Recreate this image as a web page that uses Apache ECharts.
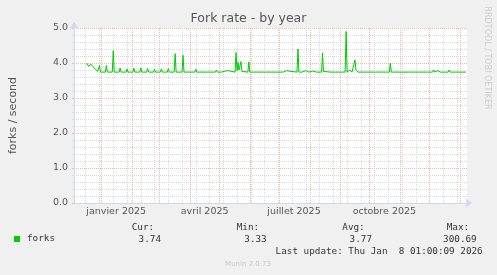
<!DOCTYPE html>
<html><head><meta charset="utf-8">
<script src="https://cdn.jsdelivr.net/npm/echarts@6/dist/echarts.min.js"></script>
<style>html,body{margin:0;padding:0;background:#f0f0f0}#c{width:497px;height:275px}</style>
</head><body><div id="c"></div>
<script>
const dates = [
'2024-12-17','2024-12-19','2024-12-21','2024-12-22','2024-12-23','2024-12-25','2024-12-28','2024-12-29','2024-12-30','2024-12-31',
'2025-01-05','2025-01-06','2025-01-07','2025-01-12','2025-01-13','2025-01-14','2025-01-19','2025-01-20','2025-01-21',
'2025-01-26','2025-01-27','2025-01-28','2025-02-02','2025-02-03','2025-02-04','2025-02-09','2025-02-10','2025-02-11',
'2025-02-16','2025-02-17','2025-02-18','2025-02-23','2025-02-24','2025-02-25','2025-03-02','2025-03-03','2025-03-04',
'2025-03-09','2025-03-10','2025-03-11','2025-03-16','2025-03-17','2025-03-18','2025-03-24','2025-03-25','2025-03-26',
'2025-04-06','2025-04-07','2025-04-08','2025-04-20','2025-04-21','2025-04-22','2025-04-27','2025-04-28','2025-04-29',
'2025-05-03','2025-05-04','2025-05-05','2025-05-07','2025-05-08','2025-05-10','2025-05-11','2025-05-12',
'2025-05-17','2025-05-18','2025-05-19','2025-05-20','2025-05-21','2025-05-22','2025-05-23','2025-05-24','2025-05-25',
'2025-05-30','2025-05-31','2025-06-01',
'2025-07-05','2025-07-06','2025-07-07','2025-07-08','2025-07-09','2025-07-19','2025-07-20','2025-07-21',
'2025-07-24','2025-07-25','2025-07-26','2025-07-28','2025-07-29','2025-07-31','2025-08-01','2025-08-02',
'2025-08-04','2025-08-05','2025-08-08','2025-08-09','2025-08-10','2025-08-13','2025-08-14','2025-08-15','2025-08-16','2025-08-17',
'2025-08-22','2025-08-23','2025-08-24','2025-08-27','2025-08-28','2025-08-29','2025-09-06','2025-09-07','2025-09-08',
'2025-09-11','2025-09-12','2025-09-13','2025-09-15','2025-09-16','2025-09-17','2025-09-18','2025-09-19',
'2025-10-07','2025-10-08','2025-10-09','2025-10-21','2025-10-22','2025-10-23','2025-10-27','2025-10-28','2025-10-29',
'2025-11-01','2025-11-02','2025-11-03','2025-11-13','2025-11-14','2025-11-15','2025-11-21','2025-11-22','2025-11-23',
'2025-11-29','2025-11-30','2025-12-01','2025-12-04','2025-12-05','2025-12-06','2025-12-08','2025-12-09','2025-12-10',
'2025-12-12','2025-12-13','2025-12-14','2025-12-20','2025-12-21','2025-12-22','2026-01-07'
];
const forks = [
4.00,3.90,3.97,3.98,3.93,3.85,3.76,3.74,3.93,3.74,
3.74,3.93,3.74,3.74,4.35,3.74,3.74,3.86,3.74,
3.74,3.83,3.74,3.74,3.85,3.74,3.74,3.86,3.74,
3.74,3.84,3.74,3.74,3.82,3.74,3.74,3.83,3.74,
3.74,3.84,3.74,3.74,4.27,3.74,3.74,4.22,3.74,
3.74,3.82,3.74,3.74,3.79,3.74,3.74,3.80,3.74,
3.74,3.77,3.75,3.77,3.75,3.78,3.81,3.74,
3.74,4.30,3.78,4.02,3.80,3.82,4.04,3.76,3.74,
3.74,4.03,3.74,
3.74,3.79,3.74,3.78,3.74,3.74,4.40,3.74,
3.74,3.77,3.74,3.78,3.74,3.74,3.77,3.74,
3.77,3.74,3.74,3.78,3.74,3.74,4.29,3.76,3.80,3.74,
3.74,3.77,3.74,3.74,3.77,3.74,3.74,4.90,3.74,
3.80,3.78,3.74,3.76,4.09,3.80,3.78,3.74,
3.74,3.69,3.74,3.74,4.00,3.74,3.74,3.70,3.74,
3.74,3.71,3.74,3.74,3.78,3.74,3.74,3.78,3.74,
3.74,3.70,3.74,3.74,3.80,3.74,3.74,3.78,3.74,
3.74,3.77,3.74,3.74,3.80,3.74,3.74
];
const tickLabelDates = ['2025-01-16','2025-04-16','2025-07-16','2025-10-16'];
const tickLabels = ['janvier 2025','avril 2025','juillet 2025','octobre 2025'];
const statNames = ['Cur:','Min:','Avg:','Max:'];
const statValues = ['3.74','3.33','3.77','300.69'];
const seriesName = 'forks';

const DAY = 86400000;
const t = s => Date.parse(s + 'T00:00:00Z');
const end = Date.UTC(2026,0,8,1,0,0);
const start = end - 400*DAY;

// grid line positions: monthly (major) and biweekly Mondays (minor)
const monthLines = [];
for (let y = 2024, m = 11; ; ) {
  const v = Date.UTC(y, m, 1);
  if (v > end) break;
  if (v >= start) monthLines.push(v);
  m++; if (m > 11) { m = 0; y++; }
}
const weekLines = [];
for (let v = t('2024-12-16'); v <= end; v += 14*DAY) weekLines.push(v);

const tickVals = tickLabelDates.map(t);
const FONT = 'DejaVu Sans';
const MONO = 'DejaVu Sans Mono';
const RED = '#f4b4b4';
const GRAY = '#dadada';

const chart = echarts.init(document.getElementById('c'), null, {renderer:'canvas'});
const statX = [131.7, 236.7, 342.3, 446.7];
const valR = [161, 266.7, 372, 476.7];
const graphics = [];
statNames.forEach((s,i)=>{
  graphics.push({type:'text', x:statX[i], y:227.3, style:{text:s, font:'9.3px "'+MONO+'"', fill:'#333', textVerticalAlign:'middle', textAlign:'left'}});
  graphics.push({type:'text', x:valR[i], y:240, style:{text:statValues[i], font:'9.3px "'+MONO+'"', fill:'#333', textVerticalAlign:'middle', textAlign:'right'}});
});
graphics.push({type:'text', x:482.7, y:251.7, style:{text:'Last update: Thu Jan  8 01:00:09 2026', font:'9.3px "'+MONO+'"', fill:'#333', textVerticalAlign:'middle', textAlign:'right'}});
graphics.push({type:'text', x:248, y:264, style:{text:'Munin 2.0.73', font:'7px "'+FONT+'"', fill:'#c8c8c8', textVerticalAlign:'middle', textAlign:'center'}});
graphics.push({type:'text', x:487, y:58, rotation:-Math.PI/2, style:{text:'RRDTOOL / TOBI OETIKER', font:'8px "'+FONT+'"', fill:'#cccccc', textVerticalAlign:'middle', textAlign:'center'}});

chart.setOption({
  animation:false,
  backgroundColor:'#f0f0f0',
  title:{text:'Fork rate - by year', left:'center', top:12, padding:0,
    textStyle:{fontFamily:FONT, fontSize:12.5, fontWeight:'normal', color:'#555'}},
  legend:{data:[seriesName], left:14, top:234.5, padding:0, icon:'rect', itemWidth:6, itemHeight:6,
    textStyle:{fontFamily:MONO, fontSize:9.3, color:'#333', padding:[0,0,0,2]}},
  grid:{left:66, right:30, top:28, bottom:72, show:true, backgroundColor:'#ffffff', borderWidth:0},
  xAxis:{type:'value', min:start, max:end,
    axisLine:{show:true, lineStyle:{color:'#cfd6f8', width:1}, symbol:['none','arrow'], symbolSize:[7,7], symbolOffset:[0,5]},
    axisTick:{show:false},
    splitLine:{show:false},
    axisLabel:{customValues:tickVals, margin:4, fontFamily:FONT, fontSize:9.5, color:'#555',
      formatter:v=>{const i=tickVals.indexOf(v); return i>=0?tickLabels[i]:'';}}},
  yAxis:{type:'value', min:0, max:5, interval:1,
    name:'forks / second', nameLocation:'middle', nameRotate:90, nameGap:55,
    nameTextStyle:{fontFamily:FONT, fontSize:11, color:'#555'},
    axisLine:{show:true, lineStyle:{color:'#cfd6f8', width:1}, symbol:['none','arrow'], symbolSize:[7,7], symbolOffset:[0,6]},
    axisTick:{show:true, length:2, lineStyle:{color:RED}},
    minorTick:{show:true, splitNumber:5, length:2, lineStyle:{color:GRAY}},
    axisLabel:{margin:6, fontFamily:FONT, fontSize:9.5, color:'#555', formatter:v=>v.toFixed(1)},
    splitLine:{show:true, lineStyle:{color:RED, type:[1,1], width:1}},
    minorSplitLine:{show:true, lineStyle:{color:GRAY, type:[1,1], width:1}}},
  graphic:graphics,
  series:[
    {type:'line', name:'grid', data:[], silent:true, legendHoverLink:false,
      markLine:{silent:true, symbol:['none','none'], z:1, animation:false, label:{show:false},
        emphasis:{disabled:true},
        data: weekLines.map(v=>({xAxis:v, lineStyle:{color:GRAY, type:[1,1], width:1}}))
          .concat(monthLines.map(v=>({xAxis:v, lineStyle:{color:RED, type:[1,1], width:1}})))}},
    {type:'line', name:seriesName, z:5, symbol:'none', showSymbol:false,
      itemStyle:{color:'#00cc00'}, lineStyle:{color:'#00cc00', width:1},
      data: dates.map((d,i)=>[t(d), forks[i]])}
  ]
});
</script></body></html>
